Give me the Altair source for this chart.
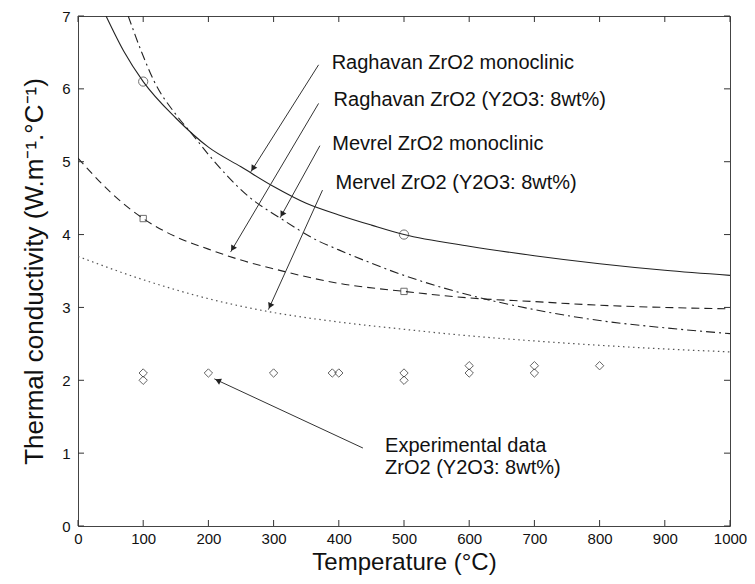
import math
import altair as alt
import pandas as pd

FONT = "Liberation Sans"
W, H = 652, 510

# ---- data ----
x_ticks = [0, 100, 200, 300, 400, 500, 600, 700, 800, 900, 1000]
y_ticks = [0, 1, 2, 3, 4, 5, 6, 7]

# Raghavan ZrO2 monoclinic (solid)
T_rag_mono = [43, 70, 100, 150, 200, 250, 300, 350, 400, 450, 500, 600, 700, 800, 900, 1000]
k_rag_mono = [7.0, 6.52, 6.1, 5.6, 5.2, 4.93, 4.66, 4.43, 4.27, 4.13, 4.0, 3.84, 3.71, 3.6, 3.51, 3.44]

# Raghavan ZrO2 (Y2O3: 8wt%) (dash-dot)
T_rag_y = [77, 100, 117, 150, 175, 200, 262, 313, 369, 400, 500, 600, 700, 800, 900, 1000]
k_rag_y = [7.0, 6.45, 6.1, 5.65, 5.38, 5.1, 4.52, 4.21, 3.91, 3.79, 3.44, 3.17, 2.97, 2.82, 2.72, 2.64]

# Mevrel ZrO2 monoclinic (dashed)
T_mev_mono = [0, 50, 100, 150, 200, 250, 300, 400, 500, 600, 700, 800, 900, 1000]
k_mev_mono = [5.05, 4.58, 4.22, 3.97, 3.8, 3.65, 3.53, 3.33, 3.22, 3.13, 3.08, 3.03, 3.0, 2.98]

# Mervel ZrO2 (Y2O3: 8wt%) (dotted)
T_mev_y = [0, 100, 200, 300, 400, 500, 600, 700, 800, 900, 1000]
k_mev_y = [3.7, 3.38, 3.12, 2.93, 2.8, 2.7, 2.61, 2.54, 2.48, 2.43, 2.39]

# markers on curves
T_circ = [100, 500]
k_circ = [6.1, 4.0]
T_sq = [100, 500]
k_sq = [4.22, 3.22]

# experimental data
T_exp = [100, 100, 200, 300, 390, 400, 500, 500, 600, 600, 700, 700, 800]
k_exp = [2.1, 2.0, 2.1, 2.1, 2.1, 2.1, 2.1, 2.0, 2.2, 2.1, 2.2, 2.1, 2.2]

# annotations
labels = ["Raghavan ZrO2 monoclinic", "Raghavan ZrO2 (Y2O3: 8wt%)",
          "Mevrel ZrO2 monoclinic", "Mervel ZrO2 (Y2O3: 8wt%)",
          "Experimental data", "ZrO2 (Y2O3: 8wt%)"]
label_T = [389, 392, 390, 395, 471, 471]
label_k = [6.35, 5.85, 5.25, 4.71, 1.10, 0.80]

arrow_T0 = [369, 369, 371, 375, 437]
arrow_k0 = [6.33, 5.80, 5.22, 4.61, 1.07]
arrow_T1 = [265, 234, 310, 292, 209]
arrow_k1 = [4.86, 3.76, 4.23, 2.97, 2.02]

# ---- scales / axes ----
xs = alt.Scale(domain=[0, 1000], nice=False, zero=False)
ys = alt.Scale(domain=[0, 7], nice=False, zero=False)

xaxis = alt.Axis(values=x_ticks, format="d", ticks=False, domain=False, grid=False,
                 labelPadding=5, labelFontSize=15, labelFont=FONT, labelColor="#111",
                 labelFlush=False, title="Temperature (°C)", titleFontSize=24,
                 titleFont=FONT, titleFontWeight="normal", titlePadding=4, titleColor="#111")
yaxis = alt.Axis(values=y_ticks, format="d", ticks=False, domain=False, grid=False,
                 labelPadding=8, labelFontSize=15, labelFont=FONT, labelColor="#111",
                 labelFlush=False, title="Thermal conductivity (W.m⁻¹.°C⁻¹)", titleFontSize=26,
                 titleFont=FONT, titleFontWeight="normal", titlePadding=14, titleColor="#111")

def X(f):
    return alt.X(f, scale=xs, axis=xaxis)

def Y(f):
    return alt.Y(f, scale=ys, axis=yaxis)

def line_layer(T, k, dash, color="#222", width=1.1):
    df = pd.DataFrame({"T": T, "k": k})
    m = dict(color=color, strokeWidth=width, interpolate="monotone", clip=True)
    if dash:
        m["strokeDash"] = dash
    return alt.Chart(df).mark_line(**m).encode(x=X("T:Q"), y=Y("k:Q"))

l_sol = line_layer(T_rag_mono, k_rag_mono, None)
l_dd = line_layer(T_rag_y, k_rag_y, [9, 4, 2, 4])
l_da = line_layer(T_mev_mono, k_mev_mono, [8, 5])
l_do = line_layer(T_mev_y, k_mev_y, [1.5, 3.5], color="#555", width=1.2)

circ = alt.Chart(pd.DataFrame({"T": T_circ, "k": k_circ})).mark_point(
    shape="circle", size=85, filled=False, color="#333", strokeWidth=1).encode(x=X("T:Q"), y=Y("k:Q"))
sq = alt.Chart(pd.DataFrame({"T": T_sq, "k": k_sq})).mark_point(
    shape="square", size=40, filled=False, color="#333", strokeWidth=1).encode(x=X("T:Q"), y=Y("k:Q"))
dia = alt.Chart(pd.DataFrame({"T": T_exp, "k": k_exp})).mark_point(
    shape="diamond", size=70, filled=False, color="#222", strokeWidth=1).encode(x=X("T:Q"), y=Y("k:Q"))

# arrows
sx, sy = W / 1000.0, H / 7.0
heads_T, heads_k, heads_a = [], [], []
for t0, k0, t1, k1 in zip(arrow_T0, arrow_k0, arrow_T1, arrow_k1):
    dx = (t1 - t0) * sx
    dy = -(k1 - k0) * sy
    ln = math.hypot(dx, dy)
    ux, uy = dx / ln, dy / ln
    heads_T.append(t1 - ux * 4 / sx)
    heads_k.append(k1 + uy * 4 / sy)
    heads_a.append(math.degrees(math.atan2(dx, -dy)) % 360)

arr_df = pd.DataFrame({"T0": arrow_T0, "k0": arrow_k0, "T1": arrow_T1, "k1": arrow_k1})
arrows = alt.Chart(arr_df).mark_rule(color="#333", strokeWidth=1).encode(
    x=X("T0:Q"), y=Y("k0:Q"), x2="T1:Q", y2="k1:Q")
heads = alt.Chart(pd.DataFrame({"T": heads_T, "k": heads_k, "a": heads_a})).mark_point(
    shape="triangle-up", size=45, filled=True, color="#222", opacity=1).encode(
    x=X("T:Q"), y=Y("k:Q"), angle=alt.Angle("a:Q", scale=None))

texts = alt.Chart(pd.DataFrame({"T": label_T, "k": label_k, "s": labels})).mark_text(
    align="left", baseline="middle", font=FONT, fontSize=20, color="#111").encode(
    x=X("T:Q"), y=Y("k:Q"), text="s:N")

# inward ticks (matlab box style)
xt_df = pd.DataFrame({"t": x_ticks})
yt_df = pd.DataFrame({"t": y_ticks})
tick_b = alt.Chart(xt_df).mark_rule(color="#333").encode(x=X("t:Q"), y=alt.value(H), y2=alt.value(H - 6))
tick_t = alt.Chart(xt_df).mark_rule(color="#333").encode(x=X("t:Q"), y=alt.value(0), y2=alt.value(6))
tick_l = alt.Chart(yt_df).mark_rule(color="#333").encode(y=Y("t:Q"), x=alt.value(0), x2=alt.value(6))
tick_r = alt.Chart(yt_df).mark_rule(color="#333").encode(y=Y("t:Q"), x=alt.value(W), x2=alt.value(W - 6))

chart = alt.layer(l_sol, l_dd, l_da, l_do, circ, sq, dia, arrows, heads, texts,
                  tick_b, tick_t, tick_l, tick_r).properties(
    width=W, height=H,
    autosize=alt.AutoSizeParams(type="none"),
    padding={"left": 70, "top": 8, "right": 17, "bottom": 50},
    background="white",
).configure_view(stroke="#444", strokeWidth=1)

chart.save("out.html", embed_options={"renderer": "svg", "actions": False})
